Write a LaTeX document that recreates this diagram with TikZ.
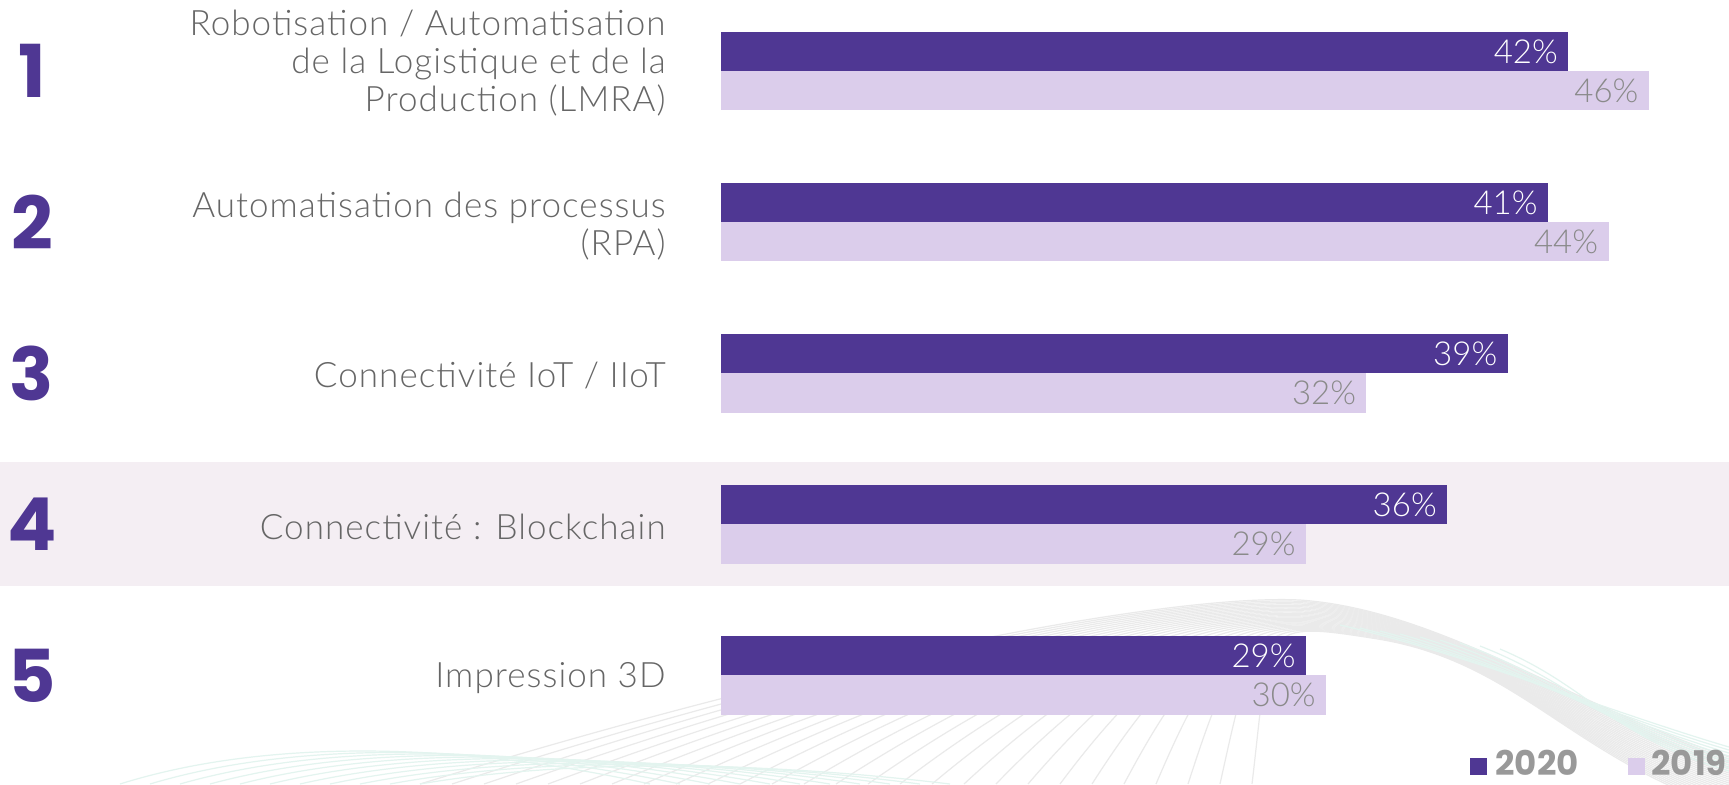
\documentclass[tikz,border=0pt]{standalone}
\usepackage{fontspec}
\setmainfont{Lato}[UprightFont=* Light]
\newfontfamily\lblfont{Lato}[UprightFont=* Light, LetterSpace=3]
\newfontfamily\numfont{Poppins}[UprightFont=* Bold]
\definecolor{barDark}{HTML}{4F3793}
\definecolor{barLight}{HTML}{DBCDEB}
\definecolor{bandCol}{HTML}{F4EEF3}
\definecolor{lblGrey}{HTML}{666666}
\definecolor{pctGrey}{HTML}{8A8A8A}
\definecolor{legGrey}{HTML}{999999}
\definecolor{waveGrey}{HTML}{EAEAEA}
\definecolor{waveTeal}{HTML}{E3F4EF}
\tikzset{
  rank/.style={font=\numfont\fontsize{36.5}{40}\selectfont, text=barDark, inner sep=0pt, anchor=center},
  catlabel/.style={font=\lblfont\fontsize{17.5}{19}\selectfont, text=lblGrey, align=right, anchor=east, inner sep=0pt},
  pctdark/.style={font=\fontsize{16.5}{19}\selectfont, text=white, anchor=east, inner sep=0pt},
  pctlight/.style={font=\fontsize{16.5}{19}\selectfont, text=pctGrey, anchor=east, inner sep=0pt},
  legtext/.style={font=\numfont\fontsize{17}{18}\selectfont, text=legGrey, anchor=base west, inner sep=0pt},
  wave/.style={draw=waveGrey, line width=0.6pt},
  wavet/.style={draw=waveTeal, line width=0.6pt}
}
\begin{document}
\begin{tikzpicture}[x=0.5pt,y=-0.5pt]
\useasboundingbox (0,0) rectangle (1729,784);
\fill[white] (0,0) rectangle (1729,784);
% decorative waves
\begin{scope}
\clip (0,588) rectangle (1729,784);
\foreach \i in {0,...,26}{
  \pgfmathsetmacro{\xs}{420+32*\i}
  \pgfmathsetmacro{\xc}{\xs+0.5*(1290-\xs)}
  \draw[wave] ({\xs},784) .. controls ({\xc},{650-\i}) and ({1180+3*\i},{594+\i}) .. ({1300+3*\i},{600+1.5*\i})
     .. controls ({1440+3*\i},{610+2*\i}) and (1570,{705+2*\i}) .. (1729,{757+2*\i});
}
\foreach \i in {0,...,8}{
  \draw[wavet] ({1340+20*\i},{625+3*\i}) .. controls ({1470+15*\i},{655+4*\i}) and (1610,{712+3*\i}) .. (1729,{747+3*\i});
}
\foreach \i in {0,...,10}{
  \draw[wavet] ({120+30*\i},784) .. controls ({260+30*\i},{740+2*\i}) and ({450+30*\i},{740+2*\i}) .. ({650+30*\i},784);
}
\end{scope}
% highlight band for row 4
\fill[bandCol] (0,462) rectangle (1729,585.5);
% bars
\foreach \r/\a/\b in {0/42/46,1/41/44,2/39/32,3/36/29,4/29/30}{
  \pgfmathsetmacro{\T}{32+151.07*\r}
  \pgfmathsetmacro{\xa}{721+20.17*\a}
  \pgfmathsetmacro{\xb}{721+20.17*\b}
  \fill[barDark] (721,\T) rectangle (\xa,\T+39.2);
  \fill[barLight] (721,\T+39.2) rectangle (\xb,\T+78.4);
  \node[pctdark] (pa\r) at (\xa-10,\T+19.6) {\a\%};
  \node[pctlight] (pb\r) at (\xb-10,\T+58.8) {\b\%};
  \node[rank] (n\r) at (32,\T+39.2) {\the\numexpr\r+1\relax};
}
% category labels
\node[catlabel] (l0) at (666,63) {Robotisation / Automatisation\\de la Logistique et de la\\Production (LMRA)};
\node[catlabel] (l1) at (666,226) {Automatisation des processus\\(RPA)};
\node[catlabel] (l2) at (666,375.5) {Connectivité IoT / IIoT};
\node[catlabel] (l3) at (666,527) {Connectivité : Blockchain};
\node[catlabel] (l4) at (666,678.5) {Impression 3D};
% legend
\fill[barDark] (1470,758) rectangle (1487,775);
\node[legtext] (g0) at (1495,775) {2020};
\fill[barLight] (1628,758) rectangle (1645,775);
\node[legtext] (g1) at (1651,775) {2019};
\end{tikzpicture}
\end{document}
